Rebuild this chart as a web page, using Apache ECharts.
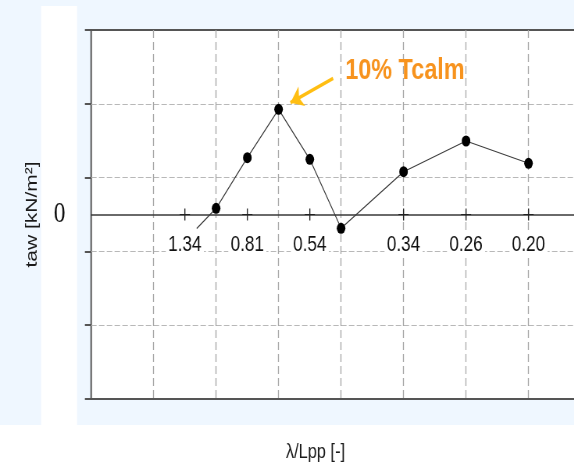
<!DOCTYPE html>
<html>
<head>
<meta charset="utf-8">
<script src="https://cdn.jsdelivr.net/npm/echarts@6/dist/echarts.min.js"></script>
<style>
  html, body { margin: 0; padding: 0; background: #fff; overflow: hidden; width: 574px; height: 469px; }
  #chart { height: 469px; transform-origin: 0 0; }
</style>
</head>
<body>
<div id="chart"></div>
<script>
// Positions along the wavelength axis and the measured added resistance at each
const xPos = [1.69, 2, 2.5, 3, 3.5, 4, 5, 6, 7];
const tawValues = [-0.19, 0.084, 0.77, 1.425, 0.748, -0.187, 0.58, 0.996, 0.694];

// λ/Lpp tick marks on the zero line and their labels
const tickPositions = [1.5, 2.5, 3.5, 5, 6, 7];
const tickLabels = ['1.34', '0.81', '0.54', '0.34', '0.26', '0.20'];

// Only the zero level is labelled on the vertical axis
const yLabelValues = [0];

const annotationText = '10% Tcalm';
const xTitle = 'λ/Lpp [-]';
const yTitle = 'taw [kN/m²]';

// The whole figure is drawn on a wider canvas and squeezed horizontally
const SQUEEZE = 0.78;
const PAGE_W = 574, PAGE_H = 469;
const W = PAGE_W / SQUEEZE;

const el = document.getElementById('chart');
el.style.width = W + 'px';
el.style.transform = 'scaleX(' + SQUEEZE + ')';

const chart = echarts.init(el, null, { renderer: 'canvas', width: W, height: PAGE_H });

const seriesData = xPos.map((x, i) =>
  i === 0 ? { value: [x, tawValues[i]], symbol: 'none' } : [x, tawValues[i]]
);
const crossData = tickPositions.map(x => [x, 0]);

const option = {
  animation: false,
  backgroundColor: 'transparent',
  textStyle: { fontFamily: 'Liberation Sans' },
  grid: {
    left: 91 / SQUEEZE,
    top: 30,
    height: 369,
    width: 8 * 62.4 / SQUEEZE,
    show: true,
    backgroundColor: '#ffffff',
    borderColor: '#555555',
    borderWidth: 2,
    containLabel: false,
    outerBoundsMode: 'none'
  },
  graphic: [
    { type: 'rect', z: -1, silent: true,
      shape: { x: 0, y: 0, width: W, height: 425 },
      style: { fill: '#EFF7FF' } },
    { type: 'rect', z: -1, silent: true,
      shape: { x: 41 / SQUEEZE, y: 6, width: 36 / SQUEEZE, height: 419 },
      style: { fill: '#ffffff' } },
    { type: 'text', silent: true,
      style: { x: 315 / SQUEEZE, y: 452, text: xTitle, align: 'center', verticalAlign: 'middle',
               font: '21px "Liberation Sans"', fill: '#1a1a1a' } }
  ],
  xAxis: [
    { // vertical dashed grid
      type: 'value', min: 0, max: 8, interval: 1, position: 'bottom',
      axisLine: { show: false, onZero: false },
      axisTick: { show: false },
      axisLabel: { show: false },
      splitLine: { show: true, showMinLine: false,
                   lineStyle: { color: '#a6a6a6', width: 1.3, type: [8, 4] } }
    },
    { // solid zero line
      type: 'value', min: 0, max: 8, position: 'bottom', z: 1,
      axisLine: { show: true, onZero: true, onZeroAxisIndex: 1,
                  lineStyle: { color: '#3a3a3a', width: 1.5 } },
      axisTick: { show: false },
      axisLabel: { show: false },
      splitLine: { show: false }
    }
  ],
  yAxis: [
    { // horizontal dashed grid, left ticks and title
      type: 'value', min: 0, max: 5, interval: 1, position: 'left',
      axisLine: { show: false },
      axisTick: { show: true, length: 8, lineStyle: { color: '#555', width: 2 } },
      axisLabel: { show: false },
      splitLine: { show: true, showMinLine: false, showMaxLine: false,
                   lineStyle: { color: '#b8b8b8', width: 1, type: [7, 3] } },
      name: yTitle, nameLocation: 'middle', nameRotate: 90, nameGap: 65,
      nameMoveOverlap: false,
      nameTextStyle: { fontSize: 21, fontFamily: 'Liberation Sans', color: '#1a1a1a' }
    },
    { // data scale, zero in the middle
      type: 'value', min: -2.5, max: 2.5, position: 'left',
      axisLine: { show: false },
      axisTick: { show: false },
      splitLine: { show: false },
      axisLabel: { customValues: yLabelValues, margin: 33, fontSize: 30,
                   fontFamily: 'Liberation Serif', color: '#111',
                   backgroundColor: 'rgba(255,255,255,0)', padding: [8, 0, 0, 0] }
    }
  ],
  series: [
    { // "+" marks on the zero line with their λ/Lpp values underneath
      type: 'scatter',
      xAxisIndex: 0,
      yAxisIndex: 1,
      data: crossData,
      symbol: 'path://M6,0 L6,12 M0,6 L12,6',
      symbolSize: [13, 12],
      z: 2,
      silent: true,
      itemStyle: { color: 'none', borderColor: '#222', borderWidth: 1.3, opacity: 1 },
      label: {
        show: true, position: 'bottom', distance: 11,
        formatter: p => tickLabels[p.dataIndex],
        fontSize: 22, fontFamily: 'Liberation Sans', color: '#111',
        backgroundColor: '#ffffff', padding: [0, 3, 1, 3]
      }
    },
    {
      type: 'line',
      xAxisIndex: 0,
      yAxisIndex: 1,
      data: seriesData,
      symbol: 'circle',
      symbolSize: 11,
      z: 3,
      itemStyle: { color: '#000' },
      lineStyle: { color: '#3c3c3c', width: 1.2 },
      markLine: {
        silent: true,
        symbol: ['none', 'arrow'],
        symbolSize: 16,
        lineStyle: { color: '#FFBE12', width: 3.5, type: 'solid' },
        itemStyle: { color: '#FFBE12' },
        label: { show: false },
        data: [[{ coord: [3.873, 1.845] }, { coord: [3.19, 1.515] }]]
      },
      markPoint: {
        silent: true,
        symbol: 'circle',
        symbolSize: 1,
        itemStyle: { color: 'rgba(0,0,0,0)' },
        label: {
          show: true, position: 'right', distance: 0,
          formatter: annotationText,
          color: '#F7931E', fontSize: 30, fontWeight: 'bold', fontFamily: 'Liberation Sans'
        },
        data: [{ coord: [4.06, 1.944] }]
      }
    }
  ]
};

chart.setOption(option);
</script>
</body>
</html>
